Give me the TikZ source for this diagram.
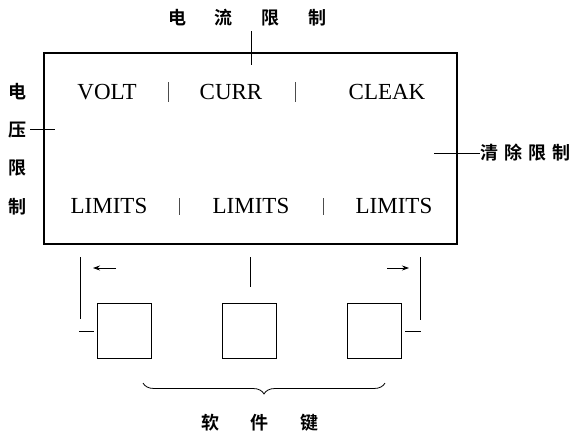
\documentclass[tikz,border=0pt]{standalone}
\usepackage{fontspec}
\setmainfont{Liberation Serif}
\newfontfamily\cjk{Noto Sans CJK SC}[BoldFont={Noto Sans CJK SC Bold}]
\usetikzlibrary{decorations.pathreplacing,arrows.meta}
\begin{document}
\begin{tikzpicture}[x=1pt,y=-1pt,
  en/.style={inner sep=0pt,font=\fontsize{23}{25}\selectfont},
  zh/.style={inner sep=0pt,font=\cjk\bfseries\fontsize{18}{20}\selectfont},
  thin line/.style={line width=0.8pt},
  sepline/.style={line width=0.6pt,black!70},
  keybox/.style={draw,line width=1pt,minimum width=54pt,minimum height=55pt,inner sep=0pt},
  arr/.style={line width=0.8pt,-{Stealth[length=7pt,width=5pt]}}]
\useasboundingbox (0,0) rectangle (579,431);
% main panel
\node[draw,line width=1.6pt,minimum width=413pt,minimum height=191pt,inner sep=0pt] (panel) at (250.5,148.5) {};
% texts in panel
\node[en] (volt) at (107,92) {VOLT};
\node[en] (curr) at (231,92) {CURR};
\node[en] (cleak) at (387,92) {CLEAK};
\node[en] (lim1) at (109,206) {LIMITS};
\node[en] (lim2) at (251,206) {LIMITS};
\node[en] (lim3) at (394,206) {LIMITS};
\coordinate (s1a) at (168,82); \coordinate (s1b) at (168,102);
\coordinate (s2a) at (295,82); \coordinate (s2b) at (295,102);
\coordinate (s3a) at (179,198); \coordinate (s3b) at (179,215);
\coordinate (s4a) at (323,198); \coordinate (s4b) at (323,215);
\draw[sepline] (s1a) -- (s1b);
\draw[sepline] (s2a) -- (s2b);
\draw[sepline] (s3a) -- (s3b);
\draw[sepline] (s4a) -- (s4b);
% top label
\node[zh] (toplab) at (247.5,18) {电\hspace{29pt}流\hspace{29pt}限\hspace{29pt}制};
\coordinate (tt1) at (251,31); \coordinate (tt2) at (251,65);
\draw[thin line] (tt1) -- (tt2);
% left label
\node[zh] (l1) at (18,92) {电};
\node[zh] (l2) at (18,130) {压};
\node[zh] (l3) at (18,168) {限};
\node[zh] (l4) at (18,207) {制};
\coordinate (lt1) at (30,129); \coordinate (lt2) at (55,129);
\draw[thin line] (lt1) -- (lt2);
% right label
\node[zh,anchor=west] (rlab) at (480,153) {清\hspace{6pt}除\hspace{6pt}限\hspace{6pt}制};
\coordinate (rt1) at (434,153);
\draw[thin line] (rt1) -- (rlab.west);
% keys
\node[keybox] (k1) at (124,330.5) {};
\node[keybox] (k2) at (249.5,330.5) {};
\node[keybox] (k3) at (374,330.5) {};
% left bracket
\coordinate (a1) at (80,257); \coordinate (a2) at (80,319);
\coordinate (a3) at (79,331); \coordinate (a4) at (94,331);
\draw[thin line] (a1) -- (a2);
\draw[thin line] (a3) -- (a4);
\coordinate (aw1) at (116,268); \coordinate (aw2) at (93,268);
\draw[arr] (aw1) -- (aw2);
% middle
\coordinate (m1) at (250,257); \coordinate (m2) at (250,287);
\draw[thin line] (m1) -- (m2);
% right bracket
\coordinate (b1) at (420,257); \coordinate (b2) at (420,320);
\coordinate (b3) at (405,331); \coordinate (b4) at (421,331);
\draw[thin line] (b1) -- (b2);
\draw[thin line] (b3) -- (b4);
\coordinate (bw1) at (387,268); \coordinate (bw2) at (409,268);
\draw[arr] (bw1) -- (bw2);
% brace
\coordinate (br1) at (143,383); \coordinate (br2) at (385,383);
\draw[line width=0.8pt,decorate,decoration={brace,mirror,amplitude=11pt}] (br1) -- (br2);
\node[zh] (soft) at (260,423) {软\hspace{32pt}件\hspace{32pt}键};
\end{tikzpicture}
\end{document}
